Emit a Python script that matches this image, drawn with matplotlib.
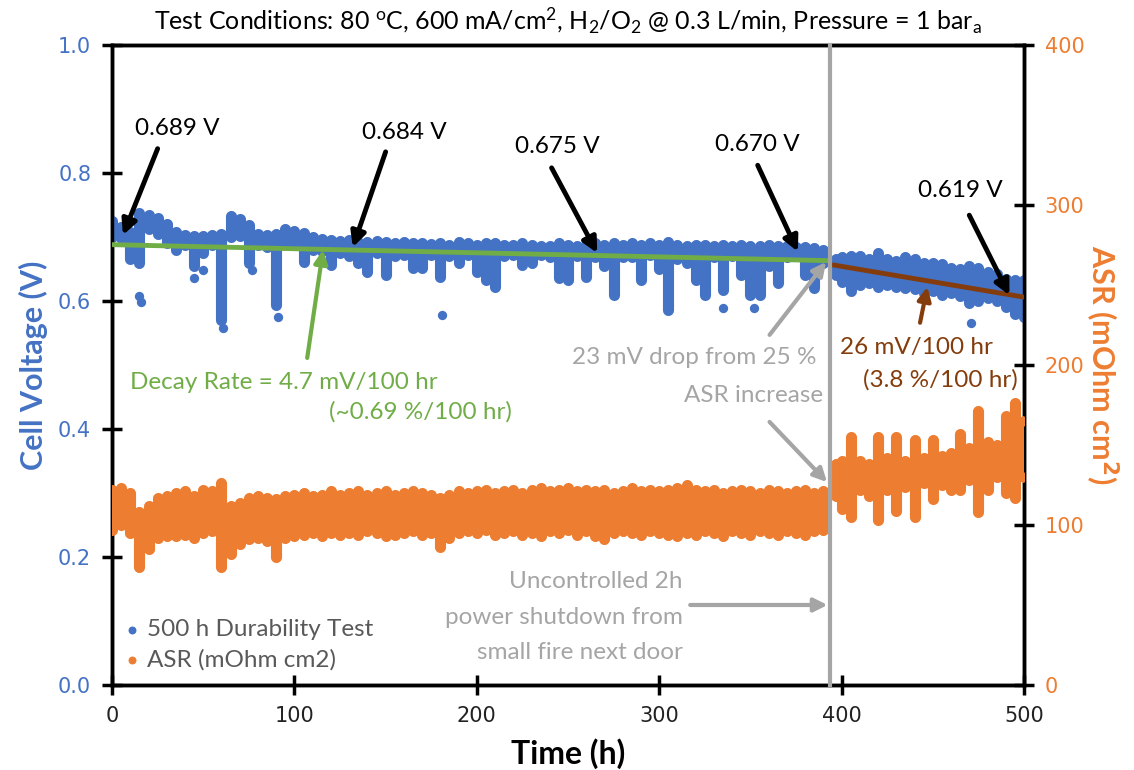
import matplotlib
matplotlib.use("Agg")
import matplotlib.pyplot as plt

plt.rcParams['font.family'] = ['Lato', 'DejaVu Sans']
plt.rcParams['mathtext.fontset'] = 'custom'
plt.rcParams['mathtext.rm'] = 'Lato'
plt.rcParams['mathtext.it'] = 'Lato:italic'

# sample times (h) - before and after the 2 h shutdown
hours = [0, 5, 10, 15, 20, 25, 30, 35, 40, 45, 50, 55, 60, 65, 70, 75, 80, 85, 90, 95,
         100, 105, 110, 115, 120, 125, 130, 135, 140, 145, 150, 155, 160, 165, 170, 175,
         180, 185, 190, 195, 200, 205, 210, 215, 220, 225, 230, 235, 240, 245, 250, 255,
         260, 265, 270, 275, 280, 285, 290, 295, 300, 305, 310, 315, 320, 325, 330, 335,
         340, 345, 350, 355, 360, 365, 370, 375, 380, 385, 390,
         397, 400, 405, 410, 415, 420, 425, 430, 435, 440, 445, 450, 455, 460, 465, 470,
         475, 480, 485, 490, 495, 500]

# cell voltage envelope (V)
volt_high = [0.725, 0.715, 0.708, 0.737, 0.735, 0.730, 0.720, 0.708, 0.703, 0.702, 0.702,
             0.703, 0.705, 0.733, 0.728, 0.718, 0.705, 0.703, 0.705, 0.712, 0.710, 0.706,
             0.700, 0.697, 0.696, 0.694, 0.695, 0.692, 0.692, 0.693, 0.692, 0.690, 0.692,
             0.690, 0.691, 0.689, 0.690, 0.688, 0.692, 0.690, 0.688, 0.690, 0.690, 0.688,
             0.687, 0.690, 0.688, 0.686, 0.686, 0.690, 0.688, 0.686, 0.688, 0.690, 0.688,
             0.690, 0.688, 0.690, 0.688, 0.690, 0.688, 0.692, 0.688, 0.686, 0.688, 0.688,
             0.686, 0.688, 0.686, 0.688, 0.686, 0.686, 0.688, 0.686, 0.686, 0.685, 0.685,
             0.683, 0.680,
             0.665, 0.668, 0.670, 0.670, 0.665, 0.675, 0.665, 0.662, 0.668, 0.665, 0.660,
             0.660, 0.657, 0.652, 0.650, 0.655, 0.652, 0.645, 0.642, 0.635, 0.632, 0.632]
volt_low = [0.700, 0.698, 0.665, 0.660, 0.712, 0.705, 0.690, 0.680, 0.688, 0.655, 0.675,
            0.688, 0.570, 0.700, 0.702, 0.660, 0.688, 0.685, 0.594, 0.690, 0.688, 0.661,
            0.680, 0.678, 0.656, 0.675, 0.670, 0.660, 0.645, 0.675, 0.641, 0.670, 0.672,
            0.652, 0.652, 0.672, 0.638, 0.670, 0.660, 0.672, 0.645, 0.633, 0.622, 0.670,
            0.672, 0.656, 0.660, 0.672, 0.668, 0.636, 0.633, 0.670, 0.638, 0.668, 0.655,
            0.609, 0.668, 0.668, 0.633, 0.672, 0.650, 0.586, 0.665, 0.660, 0.633, 0.609,
            0.668, 0.617, 0.670, 0.640, 0.609, 0.609, 0.655, 0.628, 0.668, 0.670, 0.640,
            0.620, 0.660,
            0.640, 0.630, 0.615, 0.625, 0.628, 0.622, 0.625, 0.622, 0.620, 0.618, 0.612,
            0.615, 0.610, 0.612, 0.608, 0.597, 0.600, 0.605, 0.600, 0.590, 0.580, 0.575]
# isolated low voltage points
volt_out_t = [15, 16, 45, 50, 61, 77, 91, 181, 335, 352, 471]
volt_out_v = [0.607, 0.598, 0.636, 0.648, 0.558, 0.648, 0.575, 0.578, 0.589, 0.589, 0.566]

# ASR envelope (mOhm cm2)
asr_high = [122, 123, 120, 108, 112, 117, 118, 120, 121, 118, 122, 121, 126, 112, 114, 117,
            118, 117, 116, 118, 119, 120, 118, 119, 121, 119, 120, 121, 119, 120, 121, 119,
            120, 121, 120, 119, 117, 119, 121, 120, 121, 122, 120, 121, 122, 120, 122, 123,
            121, 122, 123, 121, 122, 121, 122, 120, 121, 123, 121, 122, 121, 122, 123, 125,
            122, 121, 122, 120, 121, 122, 121, 120, 122, 121, 120, 121, 122, 120, 121,
            138, 140, 155, 140, 138, 155, 142, 155, 140, 153, 142, 153, 143, 145, 157, 148,
            171, 152, 150, 168, 176, 165]
asr_low = [97, 100, 95, 74, 85, 92, 93, 93, 94, 92, 95, 96, 74, 82, 88, 91, 92, 90, 80, 92,
           93, 94, 95, 93, 95, 94, 95, 94, 96, 95, 93, 94, 95, 96, 94, 95, 86, 92, 95, 96,
           95, 97, 94, 95, 96, 94, 95, 93, 96, 95, 97, 94, 96, 93, 91, 95, 96, 95, 94, 96,
           95, 94, 93, 95, 94, 96, 95, 93, 96, 95, 94, 96, 95, 94, 96, 95, 94, 96, 97,
           118, 110, 105, 122, 118, 103, 122, 109, 124, 105, 126, 116, 125, 122, 122, 128,
           108, 122, 130, 120, 117, 130]

# trend lines (h, V)
green_t = [0, 393]
green_v = [0.688, 0.663]
brown_t = [396, 500]
brown_v = [0.656, 0.606]
shutdown_t = 393.5

blue = '#4472C4'
orange = '#ED7D31'
green = '#70AD47'
grey = '#A5A5A5'
brown = '#843C0C'

fig = plt.figure(figsize=(11.34, 7.7), dpi=100)
ax = fig.add_axes([0.0988, 0.1104, 0.8042, 0.8312])
ax2 = ax.twinx()

# voltage band
vl = ax.vlines(hours, volt_low, volt_high, color=blue, lw=8, zorder=3)
vl.set_capstyle('round')
ax.scatter(hours, volt_high, s=50, color=blue, lw=0, zorder=3)
ax.scatter(volt_out_t, volt_out_v, s=45, color=blue, lw=0, zorder=3)
ax.scatter([], [], s=22, color=blue, label='500 h Durability Test')

# ASR band
al = ax2.vlines(hours, asr_low, asr_high, color=orange, lw=8, zorder=3)
al.set_capstyle('round')
ax2.scatter(hours, asr_high, s=50, color=orange, lw=0, zorder=3)
ax2.scatter(hours, asr_low, s=50, color=orange, lw=0, zorder=3)
ax.scatter([], [], s=22, color=orange, label='ASR (mOhm cm2)')

ax.set_xlim(0, 500)
ax.set_ylim(0, 1.0)
ax2.set_ylim(0, 400)
ax.set_xticks([0, 100, 200, 300, 400, 500])
ax.set_yticks([0.0, 0.2, 0.4, 0.6, 0.8, 1.0])
ax.set_yticklabels(['0.0', '0.2', '0.4', '0.6', '0.8', '1.0'])
ax2.set_yticks([0, 100, 200, 300, 400])

for a in (ax, ax2):
    for s in a.spines.values():
        s.set_linewidth(2.5)
        s.set_color('black')
ax.tick_params(axis='both', direction='inout', length=14, width=2.5, labelsize=15, pad=8)
ax.tick_params(axis='y', labelcolor=blue)
ax.tick_params(axis='x', labelcolor='#222222')
ax2.tick_params(axis='y', direction='inout', length=14, width=2.5, labelsize=15,
                labelcolor=orange, pad=8)
for lab in ax.get_xticklabels() + ax.get_yticklabels() + ax2.get_yticklabels():
    lab.set_fontfamily('DejaVu Sans')

ax.set_xlabel('Time (h)', fontsize=23, fontweight='bold', labelpad=9)
ax.set_ylabel('Cell Voltage (V)', fontsize=22, fontweight='bold', color=blue, labelpad=7)
ax2.set_ylabel(r'ASR (mOhm cm$^{\mathbf{2}}$)', fontsize=22, fontweight='bold', color=orange,
               rotation=-90, labelpad=26)
ax.set_title(r'Test Conditions: 80 $^{\mathrm{o}}$C, 600 mA/cm$^{2}$, H$_{2}$/O$_{2}$ @ 0.3 L/min, Pressure = 1 bar$_{\mathrm{a}}$',
             fontsize=18, pad=11)

vt = ax.transData
# trend lines and shutdown marker (drawn on top axes)
ax2.plot(green_t, green_v, color=green, lw=3.5, transform=vt, zorder=5)
ax2.plot(brown_t, brown_v, color=brown, lw=3.5, transform=vt, zorder=5)
ax2.plot([shutdown_t, shutdown_t], [0, 1], color=grey, lw=3, transform=vt, zorder=6,
         clip_on=False)

black_arrows = [('0.689 V', (36, 0.870), (25, 0.838), (6, 0.703)),
                ('0.684 V', (160, 0.864), (150, 0.833), (132, 0.684)),
                ('0.675 V', (244, 0.842), (241, 0.808), (266, 0.675)),
                ('0.670 V', (354, 0.845), (354, 0.812), (376, 0.677)),
                ('0.619 V', (465, 0.773), (470, 0.734), (492, 0.609))]
for label, txy, tail, tip in black_arrows:
    ax2.text(txy[0], txy[1], label, transform=vt, fontsize=17.5, ha='center', va='center',
             zorder=8)
    ax2.annotate('', xy=tip, xytext=tail, xycoords=vt, textcoords=vt, zorder=8,
                 arrowprops=dict(arrowstyle='-|>', color='black', lw=3.5, mutation_scale=22,
                                 shrinkA=0, shrinkB=0))

# green decay annotation
ax2.annotate('', xy=(115.7, 0.68), xytext=(107, 0.511), xycoords=vt, textcoords=vt,
             arrowprops=dict(arrowstyle='-|>', color=green, lw=3, mutation_scale=20,
                             shrinkA=0, shrinkB=0), zorder=8)
ax2.text(94, 0.472, 'Decay Rate = 4.7 mV/100 hr', transform=vt, color=green, fontsize=17.5,
         ha='center', va='center')
ax2.text(169, 0.427, '(~0.69 %/100 hr)', transform=vt, color=green, fontsize=17.5,
         ha='center', va='center')

# brown decay annotation
ax2.annotate('', xy=(447, 0.622), xytext=(443, 0.566), xycoords=vt, textcoords=vt,
             arrowprops=dict(arrowstyle='-|>', color=brown, lw=3, mutation_scale=20,
                             shrinkA=0, shrinkB=0), zorder=8)
ax2.text(441, 0.527, '26 mV/100 hr', transform=vt, color=brown, fontsize=17.5,
         ha='center', va='center')
ax2.text(454, 0.477, '(3.8 %/100 hr)', transform=vt, color=brown, fontsize=17.5,
         ha='center', va='center')

# grey annotations
gkw = dict(arrowstyle='-|>', color=grey, lw=3, mutation_scale=20, shrinkA=0, shrinkB=0)
ax2.annotate('', xy=(391.5, 0.661), xytext=(360.5, 0.547), xycoords=vt, textcoords=vt,
             arrowprops=gkw, zorder=8)
ax2.annotate('', xy=(392, 0.317), xytext=(360.5, 0.411), xycoords=vt, textcoords=vt,
             arrowprops=gkw, zorder=8)
ax2.annotate('', xy=(392.3, 0.125), xytext=(317, 0.125), xycoords=vt, textcoords=vt,
             arrowprops=gkw, zorder=8)
ax2.text(386, 0.511, '23 mV drop from 25 %', transform=vt, color=grey, fontsize=17.5,
         ha='right', va='center')
ax2.text(390, 0.453, 'ASR increase', transform=vt, color=grey, fontsize=17.5,
         ha='right', va='center')
ax2.text(313, 0.161, 'Uncontrolled 2h', transform=vt, color=grey, fontsize=17.5,
         ha='right', va='center')
ax2.text(313, 0.105, 'power shutdown from', transform=vt, color=grey, fontsize=17.5,
         ha='right', va='center')
ax2.text(313, 0.050, 'small fire next door', transform=vt, color=grey, fontsize=17.5,
         ha='right', va='center')

leg = ax.legend(loc='lower left', bbox_to_anchor=(-0.01, 0.0), frameon=False, fontsize=17.5,
                handletextpad=0.0, labelspacing=0.35, borderaxespad=0.2, handlelength=1.2)
for t in leg.get_texts():
    t.set_color('#595959')

fig.savefig('out.png', dpi=100)
